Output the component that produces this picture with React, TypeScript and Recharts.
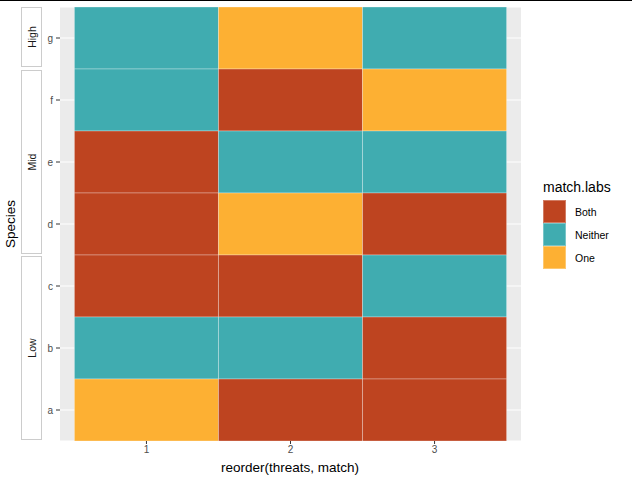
import React from 'react';
import { BarChart, Bar, XAxis, YAxis, CartesianGrid, Cell } from 'recharts';

// categories
const threats = [1, 2, 3];
const facets = ['High', 'Mid', 'Low'];
const facetSpecies = [['g'], ['f', 'e', 'd'], ['c', 'b', 'a']];

// match label per species for each threat level (1, 2, 3)
const matchT1: Record<string, string> = { g: 'Neither', f: 'Neither', e: 'Both', d: 'Both', c: 'Both', b: 'Neither', a: 'One' };
const matchT2: Record<string, string> = { g: 'One', f: 'Both', e: 'Neither', d: 'One', c: 'Both', b: 'Neither', a: 'Both' };
const matchT3: Record<string, string> = { g: 'Neither', f: 'One', e: 'Neither', d: 'Both', c: 'Neither', b: 'Both', a: 'Both' };
const matchByThreat = [matchT1, matchT2, matchT3];

const matchLabels = ['Both', 'Neither', 'One'];
const matchColors: Record<string, string> = { Both: '#BE4420', Neither: '#40ACB0', One: '#FDB033' };

const FONT = '"Liberation Sans", Arial, sans-serif';
const ROW_H = 62;
const PLOT_TOP = 7;
const X_AXIS_H = 34;

const tickStyle = { fontSize: 10, fill: '#4D4D4D', fontFamily: FONT };

// each tile spans one unit of the threat axis
const rows = facetSpecies.flat().map((s) => ({ species: s, t1: 1, t2: 1, t3: 1 }));

const App: React.FC = () => {
  let top = PLOT_TOP;
  return (
    <div style={{ position: 'absolute', left: 0, top: 0, width: 632, height: 482, background: '#fff', fontFamily: FONT, overflow: 'hidden' }}>
      <div style={{ position: 'absolute', left: 0, top: 0, width: 632, height: 1, background: '#000' }} />
      {facets.map((f, i) => {
        const h = facetSpecies[i].length * ROW_H;
        const y = top;
        top += h;
        return (
          <div
            key={f}
            style={{
              position: 'absolute',
              left: 21,
              top: y + (i === 0 ? 0 : 1),
              width: 21,
              height: h - 2,
              border: '1px solid #CCCCCC',
              boxSizing: 'border-box',
              background: '#fff',
            }}
          >
            <div
              style={{
                position: 'absolute',
                left: '50%',
                top: '50%',
                transform: 'translate(-50%, -50%) rotate(-90deg)',
                fontSize: 10.5,
                color: '#1A1A1A',
                whiteSpace: 'nowrap',
              }}
            >
              {f}
            </div>
          </div>
        );
      })}
      <div style={{ position: 'absolute', left: 44, top: PLOT_TOP }}>
        <BarChart
          width={477}
          height={rows.length * ROW_H + X_AXIS_H}
          data={rows}
          layout="vertical"
          barCategoryGap={0}
          margin={{ top: 0, right: 0, bottom: 0, left: 0 }}
        >
          <CartesianGrid fill="#EBEBEB" stroke="#FFFFFF" strokeWidth={1.2} vertical={false} />
          <XAxis
            type="number"
            domain={[-0.1, 3.1]}
            ticks={[0.5, 1.5, 2.5]}
            tickFormatter={(v: number) => String(threats[Math.floor(v)])}
            allowDataOverflow
            height={X_AXIS_H}
            axisLine={false}
            tickSize={3}
            tickMargin={2}
            tickLine={{ stroke: '#333333' }}
            tick={tickStyle}
          />
          <YAxis
            type="category"
            dataKey="species"
            width={16}
            axisLine={false}
            tickSize={4}
            tickMargin={3}
            tickLine={{ stroke: '#333333' }}
            tick={tickStyle}
          />
          {['t1', 't2', 't3'].map((key, i) => (
            <Bar
              key={key}
              dataKey={key}
              stackId="tiles"
              isAnimationActive={false}
              stroke="rgba(255,255,255,0.3)"
              strokeWidth={1}
            >
              {rows.map((d) => (
                <Cell key={d.species} fill={matchColors[matchByThreat[i][d.species]]} />
              ))}
            </Bar>
          ))}
        </BarChart>
      </div>
      <div
        style={{
          position: 'absolute',
          left: 10,
          top: 224,
          transform: 'translate(-50%, -50%) rotate(-90deg)',
          fontSize: 13.5,
          color: '#000',
          whiteSpace: 'nowrap',
        }}
      >
        Species
      </div>
      <div
        style={{
          position: 'absolute',
          left: 290,
          top: 467,
          transform: 'translate(-50%, -50%)',
          fontSize: 13.5,
          color: '#000',
          whiteSpace: 'nowrap',
        }}
      >
        reorder(threats, match)
      </div>
      <div style={{ position: 'absolute', left: 543, top: 179 }}>
        <div style={{ fontSize: 14, color: '#000', marginBottom: 5, whiteSpace: 'nowrap' }}>match.labs</div>
        {matchLabels.map((m) => (
          <div key={m} style={{ display: 'flex', alignItems: 'center', height: 23 }}>
            <div style={{ width: 23, height: 23, background: matchColors[m], border: '0.5px solid rgba(255,255,255,0.3)', boxSizing: 'border-box' }} />
            <span style={{ marginLeft: 9, fontSize: 10.5, color: '#000' }}>{m}</span>
          </div>
        ))}
      </div>
    </div>
  );
};

export default App;
